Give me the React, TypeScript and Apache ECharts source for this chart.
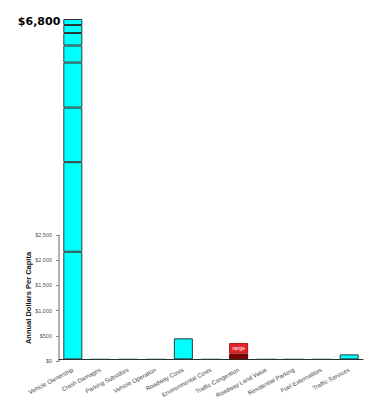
import React, { useEffect, useRef } from "react";
import * as echarts from "echarts";

const categories = [
  "Vehicle Ownership",
  "Crash Damages",
  "Parking Subsidies",
  "Vehicle Operation",
  "Roadway Costs",
  "Environmental Costs",
  "Traffic Congestion",
  "Roadway Land Value",
  "Residential Parking",
  "Fuel Externalities",
  "Traffic Services",
];

// bottom layer of every bar (annual dollars per capita)
const baseValues = [2150, 0, 0, 0, 420, 0, 115, 0, 0, 0, 100];
// upper stacked segments of the Vehicle Ownership bar
const ownershipSegments = [1790, 1090, 900, 340, 250, 160, 120];
// congestion range on top of its base
const congestionRange = 210;
const congestionIndex = 6;
const axisTicks = [0, 2500, 500];
const totalMax = 6800;

const fmt = (v: number) => "$" + v.toLocaleString("en-US");

export default function App() {
  const ref = useRef<HTMLDivElement>(null);
  useEffect(() => {
    document.body.style.margin = "0";
    if (!ref.current) return;
    const chart = echarts.init(ref.current, null, { renderer: "svg" });
    const font = "Liberation Sans, Arial, sans-serif";
    const cyan = "#00FFFF";
    const border = "#2a3a3a";

    const baseData = baseValues.map((v, i) => ({
      value: v,
      itemStyle: {
        color: i === congestionIndex ? "#7a0000" : cyan,
        borderColor: i === congestionIndex ? "#5a0000" : border,
      },
    }));

    const series: any[] = [
      {
        type: "bar",
        stack: "total",
        barWidth: 19,
        xAxisIndex: 0,
        yAxisIndex: 0,
        data: baseData,
        itemStyle: { borderWidth: 1 },
      },
    ];
    ownershipSegments.forEach((seg, k) => {
      const isTop = k === ownershipSegments.length - 1;
      series.push({
        type: "bar",
        stack: "total",
        barWidth: 19,
        xAxisIndex: 0,
        yAxisIndex: 0,
        data: categories.map((_, i) => (i === 0 ? seg : "-")),
        itemStyle: { color: cyan, borderColor: border, borderWidth: 1 },
        label: isTop
          ? {
              show: true,
              position: "left",
              distance: 3,
              formatter: fmt(totalMax),
              fontFamily: "DejaVu Sans",
              fontWeight: "bold",
              fontSize: 11,
              color: "#000",
              offset: [0, -1],
            }
          : { show: false },
      });
    });
    series.push({
      type: "bar",
      stack: "total",
      barWidth: 19,
      xAxisIndex: 0,
      yAxisIndex: 0,
      data: categories.map((_, i) => (i === congestionIndex ? congestionRange : "-")),
      itemStyle: { color: "#e3262b", borderColor: "#b01010", borderWidth: 1 },
      label: {
        show: true,
        position: "inside",
        formatter: "range",
        color: "#fff",
        fontSize: 5,
        fontFamily: font,
      },
    });

    chart.setOption({
      animation: false,
      grid: [
        { left: 59, right: 12, top: 19, bottom: 39 },
        { left: 59, right: 12, top: 235, bottom: 39 },
      ],
      xAxis: [
        {
          type: "category",
          gridIndex: 0,
          data: categories,
          axisLine: { lineStyle: { color: "#1f3535", width: 1.2 } },
          axisTick: { length: 3, lineStyle: { color: "#333" } },
          axisLabel: {
            interval: 0,
            rotate: 28,
            fontSize: 6,
            color: "#444",
            fontFamily: font,
            margin: 10,
          },
        },
        {
          type: "category",
          gridIndex: 1,
          data: categories,
          show: false,
        },
      ],
      yAxis: [
        {
          type: "value",
          gridIndex: 0,
          min: 0,
          max: totalMax,
          show: false,
          splitLine: { show: false },
        },
        {
          type: "value",
          gridIndex: 1,
          min: axisTicks[0],
          max: axisTicks[1],
          interval: axisTicks[2],
          axisLine: { show: true, lineStyle: { color: "#999", width: 1.5 } },
          axisTick: { show: true, length: 3, lineStyle: { color: "#888" } },
          splitLine: { show: false },
          axisLabel: {
            fontSize: 5.5,
            color: "#555",
            fontFamily: font,
            margin: 7,
            formatter: (v: number) => fmt(v),
          },
          name: "Annual Dollars Per Capita",
          nameLocation: "middle",
          nameGap: 27,
          nameMoveOverlap: false,
          nameTextStyle: {
            fontSize: 7.5,
            fontWeight: "bold",
            color: "#111",
            fontFamily: font,
          },
        },
      ],
      series,
    });
    return () => chart.dispose();
  }, []);
  return <div ref={ref} style={{ width: 375, height: 400 }} />;
}
